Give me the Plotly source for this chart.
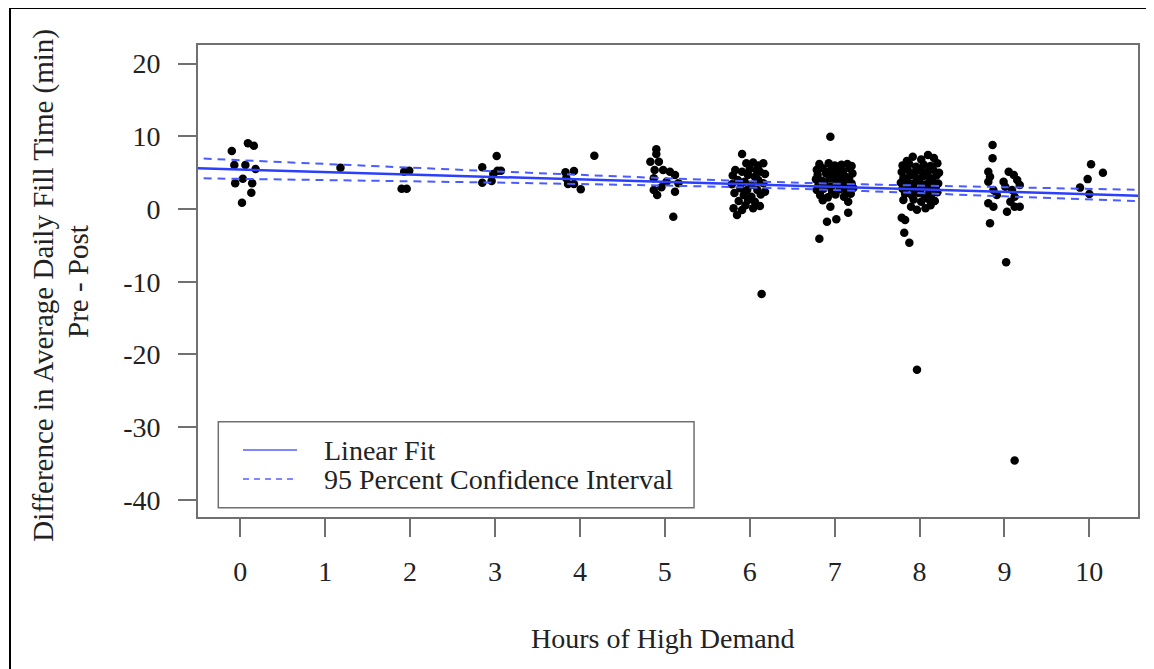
import plotly.graph_objects as go

# ─── Data ─────────────────────────────────────────────────────────────────────
# jittered hours of high demand (x) and pre - post difference in fill time (y)
hours = [
    # 0 h
    -0.10, 0.09, 0.16, -0.07, 0.06, 0.18, 0.03, -0.06, 0.14, 0.13, 0.02,
    # 1 h
    1.18,
    # 2 h
    1.93, 1.99, 1.90, 1.96,
    # 3 h
    3.02, 2.85, 3.03, 3.07, 2.98, 2.96, 2.85,
    # 4 h
    3.83, 3.93, 3.84, 3.86, 3.93, 4.01, 4.17,
    # 5 h
    4.90, 4.90, 4.83, 4.93, 4.88, 4.98, 5.06, 5.12, 4.87, 5.02, 5.16, 4.96,
    5.12, 4.91, 4.87, 5.10,
    # 6 h
    5.91, 5.96, 6.04, 6.16, 6.10, 5.83, 5.91, 6.08, 6.12, 6.00, 5.98, 6.06,
    5.80, 6.18, 5.86, 5.94, 6.02, 6.16, 6.10, 5.79, 5.89, 5.97, 6.09, 6.18,
    5.82, 5.93, 6.02, 6.13, 5.98, 6.06, 5.87, 5.81, 5.91, 6.04, 6.12, 5.95,
    5.85, 6.14,
    # 7 h
    6.82, 6.93, 7.00, 7.08, 7.15, 7.20, 6.79, 6.86, 6.95, 7.03, 7.10, 7.18,
    6.80, 6.90, 6.98, 7.05, 7.12, 7.21, 6.78, 6.85, 6.94, 7.02, 7.09, 7.17,
    6.81, 6.88, 6.96, 7.04, 7.13, 7.20, 6.79, 6.87, 6.97, 7.06, 7.14, 7.22,
    6.83, 6.92, 7.01, 7.11, 7.19, 6.86, 7.16, 6.95, 7.16, 6.91, 7.02, 6.82,
    6.95,
    # 8 h
    7.92, 8.10, 8.17, 7.85, 8.02, 7.80, 7.88, 7.96, 8.05, 8.13, 8.21, 7.79,
    7.86, 7.94, 8.01, 8.09, 8.16, 8.23, 7.81, 7.89, 7.97, 8.04, 8.12, 8.20,
    7.78, 7.85, 7.93, 8.00, 8.08, 8.15, 8.22, 7.80, 7.88, 7.95, 8.03, 8.11,
    8.19, 7.83, 7.91, 7.99, 8.06, 8.14, 8.21, 7.81, 7.93, 8.02, 8.10, 8.18,
    7.90, 7.97, 8.07, 8.13, 7.83, 7.82, 7.88, 7.79, 7.97,
    # 9 h
    8.86, 8.86, 8.81, 8.83, 8.81, 9.05, 9.11, 9.15, 9.18, 8.99, 9.01, 8.87,
    9.09, 8.91, 9.12, 8.81, 8.87, 9.07, 9.12, 9.18, 9.03, 8.83, 9.02, 9.12,
    # 10 h
    9.89, 10.02, 9.98, 10.00, 10.16,
]
diff_min = [
    # 0 h
    7.98, 9.04, 8.71, 6.05, 6.05, 5.50, 4.17, 3.54, 3.54, 2.24, 0.87,
    # 1 h
    5.69,
    # 2 h
    5.13, 5.27, 2.79, 2.79,
    # 3 h
    7.29, 5.73, 5.27, 5.27, 4.81, 3.85, 3.62,
    # 4 h
    5.05, 5.23, 4.22, 3.44, 3.44, 2.71, 7.33,
    # 5 h
    8.21, 7.57, 6.51, 6.51, 5.36, 5.36, 5.13, 4.68, 4.22, 3.76, 3.53, 2.98,
    2.38, 1.93, 2.61, -1.06,
    # 6 h
    7.57, 6.30, 6.40, 6.30, 6.00, 5.36, 5.13, 5.36, 5.13, 5.50, 4.68, 4.45,
    4.60, 4.80, 3.99, 3.76, 3.30, 3.53, 4.00, 3.40, 2.85, 2.61, 2.61, 2.38,
    2.20, 1.93, 1.69, 2.00, 1.24, 1.00, 1.10, 0.10, -0.14, 0.10, 0.41, 0.50,
    -0.83, -11.70,
    # 7 h
    6.20, 6.30, 6.00, 6.10, 6.20, 5.90, 5.40, 5.60, 5.30, 5.50, 5.20, 5.60,
    4.70, 4.90, 4.60, 4.80, 4.50, 4.90, 4.10, 3.90, 4.20, 3.80, 4.00, 4.20,
    3.30, 3.50, 3.10, 3.40, 3.20, 3.50, 2.60, 2.80, 2.40, 2.70, 2.50, 2.90,
    1.90, 1.60, 2.00, 1.70, 2.10, 1.20, 1.00, 0.32, -0.50, -1.74, -1.42, -4.08,
    9.94,
    # 8 h
    7.20, 7.43, 7.00, 6.60, 6.80, 6.00, 6.20, 5.80, 6.10, 5.90, 6.30, 5.10,
    5.40, 5.00, 5.30, 5.10, 5.40, 5.00, 4.30, 4.60, 4.20, 4.50, 4.30, 4.60,
    3.60, 3.80, 3.50, 3.70, 3.40, 3.80, 3.50, 2.80, 3.00, 2.60, 2.90, 2.70,
    3.00, 2.10, 1.90, 2.20, 1.80, 2.00, 2.30, 1.24, 1.30, 1.00, 1.40, 1.10,
    0.30, -0.10, 0.10, 0.50, -1.50, -3.26, -4.63, -1.20, -22.10,
    # 9 h
    8.80, 6.97, 5.13, 4.45, 3.76, 5.13, 4.68, 3.99, 3.30, 3.76, 3.07, 2.61,
    2.61, 1.93, 1.69, 0.78, 0.32, 1.00, 0.32, 0.32, -0.37, -1.97, -7.33, -34.60,
    # 10 h
    2.94, 6.16, 4.11, 2.06, 4.99,
]

# linear fit and its 95 % confidence band
fit_x = [-0.6, 2.0, 4.0, 6.5, 9.0, 10.7]
fit_y = [5.63, 4.75, 4.07, 3.22, 2.37, 1.79]
ci_upper = [7.02, 5.69, 4.70, 3.64, 3.00, 2.62]
ci_lower = [4.24, 3.81, 3.44, 2.80, 1.74, 1.02]

x_ticks = list(range(0, 11))
y_ticks = [20, 10, 0, -10, -20, -30, -40]

legend_labels = ["Linear Fit", "95 Percent Confidence Interval"]

# ─── Styling ──────────────────────────────────────────────────────────────────
FONT = "Liberation Serif, Times New Roman, serif"
TXT = "#222222"
AXIS = "#707070"
BLUE = "#2b3fff"
BLUE_DASH = "#4a5cff"
FS = 28
FS_BIG = 29

# ─── Figure ───────────────────────────────────────────────────────────────────
fig = go.Figure()

fig.add_trace(go.Scatter(
    x=hours, y=diff_min, mode="markers",
    marker=dict(color="black", size=8.5, line=dict(width=0)),
    showlegend=False, hoverinfo="x+y",
))
fig.add_trace(go.Scatter(
    x=fit_x, y=fit_y, mode="lines",
    line=dict(color=BLUE, width=2.5), showlegend=False,
))
for band in (ci_upper, ci_lower):
    fig.add_trace(go.Scatter(
        x=fit_x, y=band, mode="lines", line_shape="spline",
        line=dict(color=BLUE_DASH, width=2, dash="8px,6px"), showlegend=False,
    ))

fig.update_xaxes(
    range=[-0.498, 10.573], tickvals=x_ticks, ticktext=[str(v) for v in x_ticks],
    ticks="outside", ticklen=18, tickwidth=1.5, tickcolor=AXIS,
    ticklabelstandoff=10,
    showline=True, linecolor=AXIS, linewidth=1.8, mirror=True,
    showgrid=False, zeroline=False,
    tickfont=dict(family=FONT, size=FS, color=TXT),
)
fig.update_yaxes(
    range=[-42.37, 22.56], tickvals=y_ticks, ticktext=[str(v) for v in y_ticks],
    ticks="outside", ticklen=18, tickwidth=1.5, tickcolor=AXIS,
    ticklabelstandoff=12,
    showline=True, linecolor=AXIS, linewidth=1.8, mirror=True,
    showgrid=False, zeroline=False,
    tickfont=dict(family=FONT, size=FS, color=TXT),
)

# ─── Hand-placed legend (R style box) ─────────────────────────────────────────
shapes = [
    dict(type="rect", xref="paper", yref="paper", x0=0.0216, x1=0.5277,
         y0=0.0197, y1=0.2019, line=dict(color=AXIS, width=1.5),
         fillcolor="white", layer="above"),
    dict(type="line", xref="paper", yref="paper", x0=0.0479, x1=0.1053,
         y0=0.1419, y1=0.1419, line=dict(color="#7f86ff", width=2), layer="above"),
    dict(type="line", xref="paper", yref="paper", x0=0.0479, x1=0.1053,
         y0=0.0805, y1=0.0805, line=dict(color="#7f86ff", width=2, dash="6px,5px"),
         layer="above"),
    # outer frame round the whole picture
    dict(type="rect", xref="paper", yref="paper", x0=-0.2000, x1=1.05,
         y0=-0.40, y1=1.0784, line=dict(color="black", width=2)),
]

annotations = [
    dict(text=legend_labels[0], xref="paper", yref="paper", x=0.1319, y=0.1419,
         xanchor="left", yanchor="middle", showarrow=False,
         font=dict(family=FONT, size=FS, color=TXT)),
    dict(text=legend_labels[1], xref="paper", yref="paper", x=0.1319, y=0.0805,
         xanchor="left", yanchor="middle", showarrow=False,
         font=dict(family=FONT, size=FS, color=TXT)),
    dict(text="Hours of High Demand", xref="paper", yref="paper", x=0.495, y=-0.2564,
         xanchor="center", yanchor="middle", showarrow=False,
         font=dict(family=FONT, size=FS, color=TXT)),
    dict(text="Difference in Average Daily Fill Time (min)", xref="paper", yref="paper",
         x=-0.1638, y=0.49, xanchor="center", yanchor="middle", textangle=-90,
         showarrow=False, font=dict(family=FONT, size=FS_BIG, color=TXT)),
    dict(text="Pre - Post", xref="paper", yref="paper",
         x=-0.1277, y=0.50, xanchor="center", yanchor="middle", textangle=-90,
         showarrow=False, font=dict(family=FONT, size=FS_BIG, color=TXT)),
]

# page body has an 8px margin, so the figure is 8px smaller than the window
fig.update_layout(
    width=1146, height=661,
    margin=dict(l=190, r=16, t=37, b=152),
    plot_bgcolor="white", paper_bgcolor="white",
    shapes=shapes, annotations=annotations,
    showlegend=False,
    font=dict(family=FONT, size=FS, color=TXT),
)

fig.write_html("out.html")
